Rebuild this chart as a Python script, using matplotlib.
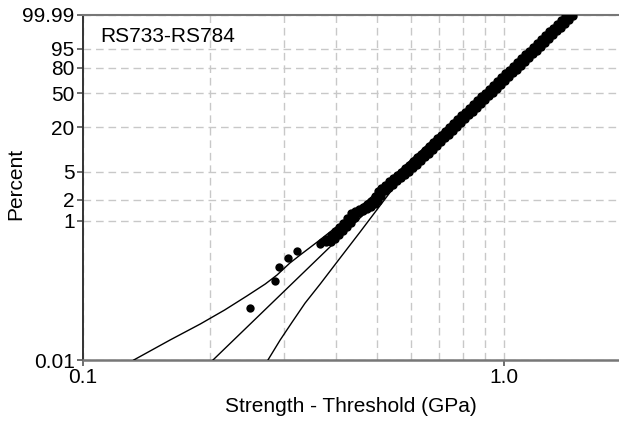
import numpy as np
import matplotlib.pyplot as plt

plt.rcParams['font.family'] = ['Liberation Sans', 'DejaVu Sans']

# weakest specimens, plotted one by one
tail_gpa = [0.249, 0.286, 0.292, 0.307, 0.322, 0.366]
tail_pct = [0.056, 0.137, 0.217, 0.293, 0.369, 0.466]

# bulk of the population: failure probability levels and the strengths
# scattered around each level (low / mid / high)
band_pct = [0.497, 0.549, 0.626, 0.714, 0.815, 0.930, 1.10, 1.29, 1.38, 1.47,
            1.57, 1.74, 1.92, 2.26, 2.66, 2.93, 3.23, 3.68, 4.06, 4.47, 4.93, 5.61,
            6.17, 6.97, 7.88, 8.90, 10.0, 11.3, 12.7, 14.3, 16.1, 18.1, 20.2, 22.6,
            25.2, 28.1, 31.3, 34.6, 38.3, 42.2, 46.3, 50.6, 55.1, 59.7, 64.3, 69.0,
            73.5, 77.8, 81.9, 85.6, 88.9, 91.8, 94.1, 96.0, 97.4, 98.42, 99.09,
            99.52, 99.77, 99.897, 99.959, 99.986]
band_mid = [0.378, 0.388, 0.397, 0.406, 0.415, 0.424, 0.433, 0.443, 0.452, 0.462,
            0.473, 0.483, 0.494, 0.502, 0.510, 0.522, 0.533, 0.545, 0.557, 0.569,
            0.582, 0.595, 0.608, 0.621, 0.635, 0.649, 0.663, 0.678, 0.693, 0.708,
            0.724, 0.740, 0.756, 0.773, 0.790, 0.808, 0.825, 0.844, 0.862, 0.881,
            0.901, 0.921, 0.941, 0.962, 0.983, 1.005, 1.027, 1.050, 1.073, 1.097,
            1.121, 1.146, 1.171, 1.197, 1.223, 1.250, 1.278, 1.306, 1.335, 1.365,
            1.395, 1.426]
band_lo = [0.369, 0.378, 0.388, 0.397, 0.406, 0.415, 0.424, 0.433, 0.443, 0.452,
           0.462, 0.473, 0.483, 0.494, 0.502, 0.510, 0.522, 0.533, 0.545, 0.557,
           0.569, 0.582, 0.595, 0.608, 0.621, 0.635, 0.649, 0.663, 0.678, 0.693,
           0.708, 0.724, 0.740, 0.756, 0.773, 0.790, 0.808, 0.825, 0.844, 0.862,
           0.881, 0.901, 0.921, 0.941, 0.962, 0.983, 1.005, 1.027, 1.050, 1.073,
           1.097, 1.121, 1.146, 1.171, 1.197, 1.223, 1.250, 1.278, 1.306, 1.335,
           1.365, 1.395]
band_hi = [0.388, 0.397, 0.406, 0.415, 0.424, 0.433, 0.443, 0.452, 0.462, 0.473,
           0.483, 0.494, 0.502, 0.510, 0.522, 0.533, 0.545, 0.557, 0.569, 0.582,
           0.595, 0.608, 0.621, 0.635, 0.649, 0.663, 0.678, 0.693, 0.708, 0.724,
           0.740, 0.756, 0.773, 0.790, 0.808, 0.825, 0.844, 0.862, 0.881, 0.901,
           0.921, 0.941, 0.962, 0.983, 1.005, 1.027, 1.050, 1.073, 1.097, 1.121,
           1.146, 1.171, 1.197, 1.223, 1.250, 1.278, 1.306, 1.335, 1.365, 1.395,
           1.426, 1.457]

# weibull fit (straight on this paper) and its confidence bounds
fit_gpa = [0.2036, 1.435]
fit_pct = [0.01, 99.99]
upper_gpa = [0.132, 0.161, 0.190, 0.217, 0.245, 0.271, 0.289, 0.310, 0.328,
             0.360, 0.408, 0.481, 0.566, 0.705, 0.978, 1.404]
upper_pct = [0.01, 0.0194, 0.033, 0.0524, 0.0833, 0.124, 0.167, 0.248, 0.324,
             0.497, 0.899, 2.11, 5.26, 16.8, 67.9, 99.99]
lower_gpa = [0.275, 0.294, 0.314, 0.337, 0.366, 0.408, 0.455, 0.513, 0.598,
             0.778, 1.056, 1.467]
lower_pct = [0.01, 0.0194, 0.0352, 0.066, 0.124, 0.293, 0.69, 1.795, 5.98,
             19.5, 75.0, 99.99]

ytick_vals = [0.01, 1, 2, 5, 20, 50, 80, 95, 99.99]
ytick_text = ["0.01", "1", "2", "5", "20", "50", "80", "95", "99.99"]


def weib(p):
    p = np.clip(np.asarray(p, dtype=float), 1e-7, 100 - 1e-7)
    return np.log(-np.log(1 - p / 100.0))


def weib_inv(y):
    return 100.0 * (1 - np.exp(-np.exp(y)))


fig = plt.figure(figsize=(6.19, 4.24), dpi=100)
ax = fig.add_axes([83 / 619, 64 / 424, 536 / 619, 345 / 424])
ax.set_xscale('log')
ax.set_yscale('function', functions=(weib, weib_inv))
ax.set_xlim(0.1, 1.876)
ax.set_ylim(0.01, 99.99)

ax.plot(fit_gpa, fit_pct, color='k', lw=1.0, zorder=3)
ax.plot(upper_gpa, upper_pct, color='k', lw=1.0, zorder=3)
ax.plot(lower_gpa, lower_pct, color='k', lw=1.0, zorder=3)

for xs in (band_lo, band_mid, band_hi):
    ax.plot(xs, band_pct, 'o', color='k', ms=6, mew=0, zorder=4)
ax.plot(tail_gpa, tail_pct, 'o', color='k', ms=6, mew=0, zorder=4)

ax.set_yticks(ytick_vals)
ax.set_yticklabels(ytick_text)
ax.yaxis.set_minor_locator(plt.NullLocator())
ax.set_xticks([0.1, 1.0])
ax.set_xticklabels(["0.1", "1.0"])
ax.set_xticks([0.2, 0.3, 0.4, 0.5, 0.6, 0.7, 0.8, 0.9], minor=True)
ax.set_xticklabels([], minor=True)
ax.tick_params(axis='x', which='minor', length=0)
ax.tick_params(axis='both', which='major', labelsize=15, length=4,
               width=1.2, color='#555555', pad=2)

ax.grid(True, which='both', axis='x', color='#c8c8c8', lw=1.0,
        linestyle=(0, (5.5, 3.5)))
ax.grid(True, which='major', axis='y', color='#c8c8c8', lw=1.0,
        linestyle=(0, (5.5, 3.5)))
ax.set_axisbelow(True)

ax.spines['right'].set_visible(False)
ax.spines['left'].set_color('#333333')
ax.spines['left'].set_linewidth(1.4)
ax.spines['bottom'].set_color('#777777')
ax.spines['bottom'].set_linewidth(1.8)
ax.spines['top'].set_color('#777777')
ax.spines['top'].set_linewidth(1.5)

ax.set_xlabel("Strength - Threshold (GPa)", fontsize=15, labelpad=7)
ax.set_ylabel("Percent", fontsize=15)
ax.yaxis.set_label_coords(-0.108, 0.51)
ax.text(0.032, 0.922, "RS733-RS784", transform=ax.transAxes, fontsize=15,
        va='baseline', ha='left')

fig.savefig('out.png', dpi=100)
